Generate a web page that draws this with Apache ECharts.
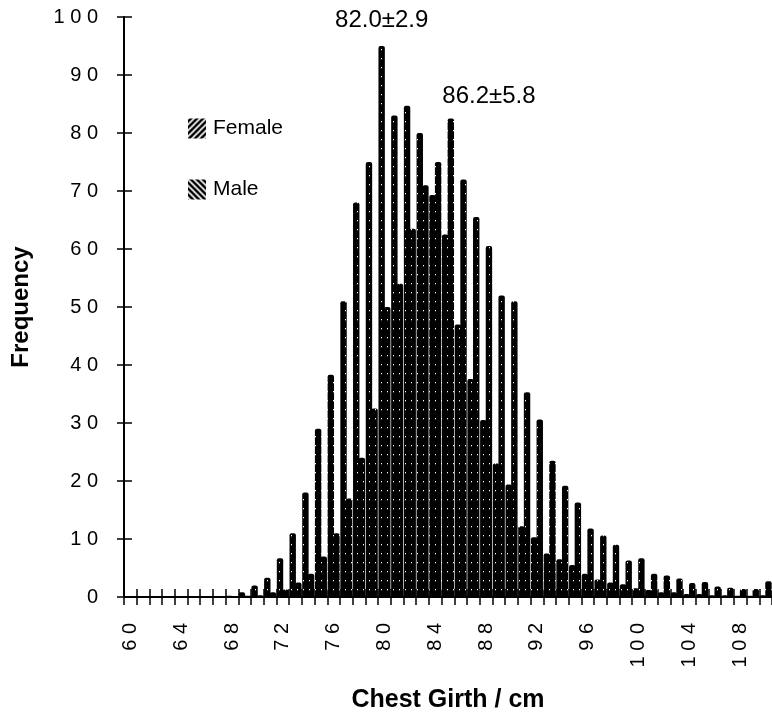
<!DOCTYPE html>
<html>
<head>
<meta charset="utf-8">
<script src="https://cdn.jsdelivr.net/npm/echarts@6/dist/echarts.min.js"></script>
<style>
html,body{margin:0;padding:0;background:#fff;}
#chart{width:772px;height:718px;}
</style>
</head>
<body>
<div id="chart"></div>
<script>
// ---- data ----
const categories = ['60','61','62','63','64','65','66','67','68','69','70','71','72','73','74','75','76','77','78','79','80','81','82','83','84','85','86','87','88','89','90','91','92','93','94','95','96','97','98','99','100','101','102','103','104','105','106','107','108','109','110'];
const femaleFreq = [0,0,0,0,0,0,0,0,0.2,0.8,2,3.3,6.7,11,18,29,38.3,51,68,75,95,83,84.7,80,69.3,62.5,47,37.6,30.5,23,19.4,12.2,10.3,7.5,6.5,5.5,4,3,2.5,2.2,1.5,1.2,0.8,0.8,0.5,0.5,0.3,0.3,0.2,0.2,0.3];
const maleFreq = [0,0,0,0,0,0,0,0,0,0.2,0.3,0.8,1.3,2.5,4,7,11,17,24,32.5,50,54,63.5,71,75,82.5,72,65.5,60.5,52,51,35.3,30.6,23.5,19.2,16.3,11.8,10.6,9,6.3,6.7,4,3.7,3.2,2.4,2.6,1.8,1.6,1.4,1.4,2.7];
const femaleNote = {x: '80', y: 99.5, text: '82.0±2.9'};
const maleNote = {x: '88', y: 86.4, text: '86.2±5.8'};
const yTicks = {min: 0, max: 100, interval: 10};

const FONT = '"Liberation Sans", Arial, Helvetica, sans-serif';

function makePattern(kind) {
  const c = document.createElement('canvas');
  const ctx = c.getContext('2d');
  if (kind === 'dots') {
    c.width = 6; c.height = 9;
    ctx.fillStyle = '#000'; ctx.fillRect(0, 0, 6, 9);
    ctx.fillStyle = '#fff'; ctx.fillRect(3, 4, 1, 1.3);
  } else {
    c.width = 6; c.height = 6;
    ctx.fillStyle = '#000'; ctx.fillRect(0, 0, 6, 6);
    ctx.strokeStyle = '#fff'; ctx.lineWidth = 1.6;
    ctx.beginPath();
    if (kind === 'fwd') {
      ctx.moveTo(-1, 7); ctx.lineTo(7, -1);
      ctx.moveTo(-1, 1); ctx.lineTo(1, -1);
      ctx.moveTo(5, 7); ctx.lineTo(7, 5);
    } else {
      ctx.moveTo(-1, -1); ctx.lineTo(7, 7);
      ctx.moveTo(5, -1); ctx.lineTo(7, 1);
      ctx.moveTo(-1, 5); ctx.lineTo(1, 7);
    }
    ctx.stroke();
  }
  return {image: c, repeat: 'repeat'};
}

const dotFill = makePattern('dots');
const spaced = v => String(v).split('').join(' ');

const chart = echarts.init(document.getElementById('chart'), null, {renderer: 'canvas'});

function noteMark(n) {
  return {
    symbol: 'rect', symbolSize: [1, 1],
    itemStyle: {color: 'rgba(0,0,0,0)'},
    label: {show: true, position: 'inside', formatter: n.text, color: '#000', fontSize: 24, fontFamily: FONT},
    data: [{coord: [n.x, n.y]}]
  };
}

chart.setOption({
  animation: false,
  backgroundColor: '#fff',
  textStyle: {fontFamily: FONT, color: '#000'},
  grid: {left: 124, top: 17, width: 650, height: 584, containLabel: false},
  legend: {
    orient: 'vertical', left: 188, top: 118, itemGap: 40, padding: 0,
    itemWidth: 18, itemHeight: 20, icon: 'rect', selectedMode: false,
    textStyle: {fontSize: 21, color: '#000', fontFamily: FONT, padding: [0, 0, 0, 2]},
    data: [
      {name: 'Female', itemStyle: {color: makePattern('fwd')}},
      {name: 'Male', itemStyle: {color: makePattern('back')}}
    ]
  },
  xAxis: [
    {
      type: 'category', data: categories, position: 'bottom',
      boundaryGap: true,
      axisLine: {lineStyle: {color: '#000', width: 2}},
      axisTick: {show: true, interval: 0, inside: false, length: 8, lineStyle: {color: '#000', width: 1.5}},
      axisLabel: {interval: 3, rotate: 90, margin: 26, fontSize: 20, color: '#000', fontFamily: FONT, formatter: spaced},
      splitLine: {show: false},
      name: 'Chest Girth / cm', nameLocation: 'middle', nameGap: 91,
      nameTextStyle: {fontSize: 25, fontWeight: 'bold', color: '#000', fontFamily: FONT}
    },
    {
      type: 'category', data: categories, position: 'bottom',
      boundaryGap: true,
      axisLine: {show: false},
      axisTick: {show: true, interval: 0, inside: true, length: 8, lineStyle: {color: '#000', width: 1.5}},
      axisLabel: {show: false},
      splitLine: {show: false}
    }
  ],
  yAxis: [
    {
      type: 'value', min: yTicks.min, max: yTicks.max, interval: yTicks.interval, position: 'left',
      axisLine: {show: true, lineStyle: {color: '#000', width: 2}},
      axisTick: {show: true, inside: false, length: 7, lineStyle: {color: '#000', width: 1.5}},
      axisLabel: {margin: 26, fontSize: 20, color: '#000', fontFamily: FONT, formatter: spaced},
      splitLine: {show: false},
      name: 'Frequency', nameLocation: 'middle', nameGap: 91, nameRotate: 90,
      nameTextStyle: {fontSize: 24, fontWeight: 'bold', color: '#000', fontFamily: FONT}
    },
    {
      type: 'value', min: yTicks.min, max: yTicks.max, interval: yTicks.interval, position: 'left',
      axisLine: {show: false},
      axisTick: {show: true, inside: true, length: 8, lineStyle: {color: '#000', width: 1.5}},
      axisLabel: {show: false},
      splitLine: {show: false}
    }
  ],
  series: [
    {
      name: 'Female', type: 'bar', xAxisIndex: 0, yAxisIndex: 0,
      data: femaleFreq, barWidth: 6.4, barGap: '-12%',
      itemStyle: {color: dotFill, borderRadius: [2, 2, 0, 0]},
      markPoint: noteMark(femaleNote)
    },
    {
      name: 'Male', type: 'bar', xAxisIndex: 0, yAxisIndex: 0,
      data: maleFreq, barWidth: 6.4, barGap: '-12%',
      itemStyle: {color: dotFill, borderRadius: [2, 2, 0, 0]},
      markPoint: noteMark(maleNote)
    }
  ]
});
</script>
</body>
</html>
